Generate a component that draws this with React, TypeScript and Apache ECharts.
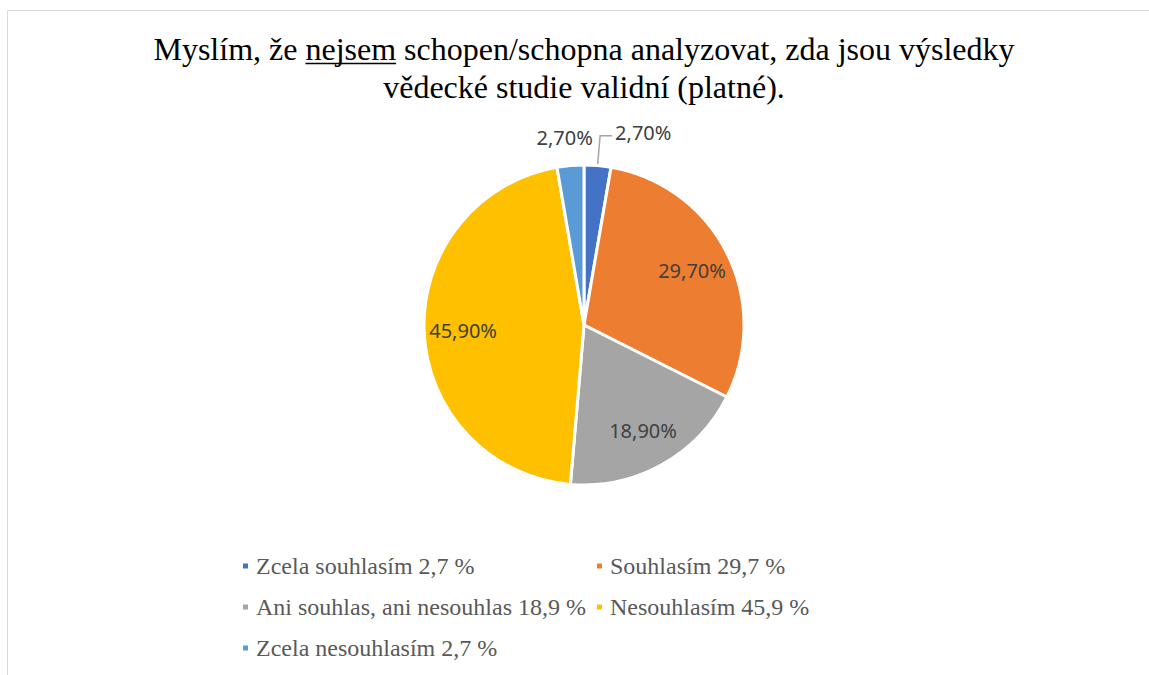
import React, { useEffect, useRef } from "react";
import * as echarts from "echarts";

const categories = [
  "Zcela souhlasím",
  "Souhlasím",
  "Ani souhlas, ani nesouhlas",
  "Nesouhlasím",
  "Zcela nesouhlasím",
];
const values = [2.7, 29.7, 18.9, 45.9, 2.7];
const colors = ["#4472C4", "#ED7D31", "#A5A5A5", "#FFC000", "#5B9BD5"];
const legendColumn1 = [0, 2, 4];
const legendColumn2 = [1, 3];
const titlePre = "Myslím, že ";
const titleUnderlined = "nejsem";
const titlePost = " schopen/schopna analyzovat, zda jsou výsledky";
const titleLine2 = "vědecké studie validní (platné).";

const fmtLabel = (v: number) => v.toFixed(2).replace(".", ",") + "%";
const fmtLegend = (v: number) => v.toFixed(1).replace(".", ",") + " %";

function measure(text: string, font: string) {
  const c = document.createElement("canvas").getContext("2d")!;
  c.font = font;
  return c.measureText(text).width;
}

export default function App() {
  const ref = useRef<HTMLDivElement>(null);
  useEffect(() => {
    const chart = echarts.init(ref.current!, null, { renderer: "svg" });
    const titleSize = 32;
    const titleFont = `${titleSize}px "Liberation Serif"`;
    const cx = 584;
    const line1 = titlePre + titleUnderlined + titlePost;
    const w1 = measure(line1, titleFont);
    const wPre = measure(titlePre, titleFont);
    const wU = measure(titleUnderlined, titleFont);
    const ulX = cx - w1 / 2 + wPre;
    const title1Y = 49;
    const title2Y = 87;

    const small = (i: number) => values[i] < 5;
    const mainData = categories.map((name, i) => ({
      name,
      value: values[i],
      itemStyle: { color: colors[i] },
      label: { show: small(i) },
      labelLine: { show: i === 0 },
    }));
    const labelData = categories.map((name, i) => ({
      name,
      value: values[i],
      label: { show: !small(i) },
    }));

    const legendBase = {
      orient: "vertical" as const,
      icon: "rect",
      itemWidth: 7,
      itemHeight: 7,
      itemGap: 17,
      selectedMode: false,
      textStyle: {
        fontFamily: "Liberation Serif",
        fontSize: 24,
        color: "#595959",
        lineHeight: 24,
        padding: [0, 0, 0, 2],
      },
      formatter: (name: string) => name + " " + fmtLegend(values[categories.indexOf(name)]),
    };

    chart.setOption({
      animation: false,
      backgroundColor: "#ffffff",
      graphic: [
        {
          type: "rect",
          shape: { x: 7.5, y: 10.5, width: 1300, height: 800 },
          style: { fill: "none", stroke: "#d9d9d9", lineWidth: 1 },
          silent: true,
        },
        {
          type: "text",
          x: cx,
          y: title1Y,
          style: {
            text: line1,
            font: titleFont,
            fill: "#000000",
            textAlign: "center",
            textVerticalAlign: "middle",
          },
        },
        {
          type: "text",
          x: cx,
          y: title2Y,
          style: {
            text: titleLine2,
            font: titleFont,
            fill: "#000000",
            textAlign: "center",
            textVerticalAlign: "middle",
          },
        },
        {
          type: "line",
          shape: { x1: ulX, y1: title1Y + 14.5, x2: ulX + wU, y2: title1Y + 14.5 },
          style: { stroke: "#000000", lineWidth: 1.3 },
        },
      ],
      legend: [
        { ...legendBase, left: 236, top: 549, data: legendColumn1.map((i) => categories[i]) },
        { ...legendBase, left: 590, top: 549, data: legendColumn2.map((i) => categories[i]) },
      ],
      series: [
        {
          type: "pie",
          center: [cx, 325],
          radius: [0, 160],
          startAngle: 90,
          clockwise: true,
          avoidLabelOverlap: false,
          itemStyle: { borderColor: "#ffffff", borderWidth: 3 },
          label: {
            position: "outside",
            formatter: (p: any) => fmtLabel(p.value),
            fontFamily: "Noto Sans",
            fontSize: 20,
            color: "#404040",
            distanceToLabelLine: 3,
          },
          labelLine: {
            length: 30,
            length2: 12,
            lineStyle: { color: "#A6A6A6", width: 1.5 },
          },
          labelLayout: (p: any) => (p.dataIndex === 4 ? { dx: 40, dy: 2 } : { dy: -3 }),
          emphasis: { disabled: true },
          data: mainData,
        },
        {
          type: "pie",
          center: [cx, 325],
          radius: [76, 160],
          startAngle: 90,
          clockwise: true,
          silent: true,
          itemStyle: { color: "rgba(0,0,0,0)" },
          label: {
            position: "inside",
            formatter: (p: any) => fmtLabel(p.value),
            fontFamily: "Noto Sans",
            fontSize: 20,
            color: "#404040",
          },
          labelLine: { show: false },
          emphasis: { disabled: true },
          data: labelData,
        },
      ],
    });
    return () => chart.dispose();
  }, []);
  return (
    <div
      ref={ref}
      style={{ position: "fixed", left: 0, top: 0, width: 1149, height: 675 }}
    />
  );
}
